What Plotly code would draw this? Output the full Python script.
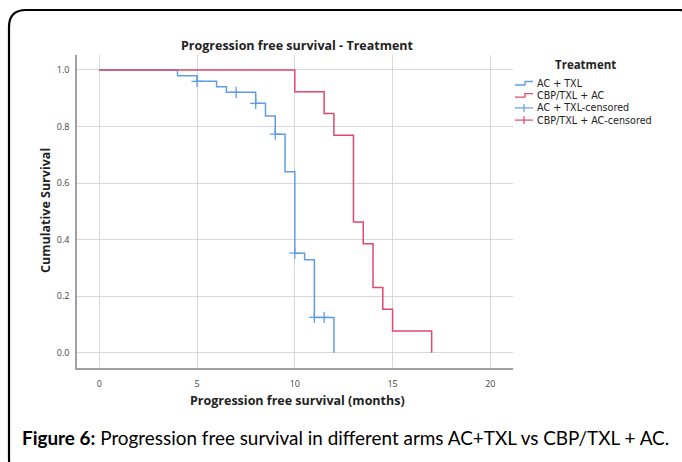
import plotly.graph_objects as go

# Kaplan-Meier estimates: progression free survival by treatment arm
ac_txl_months = [0, 4, 5, 6, 6.5, 8, 8.5, 9, 9.5, 10, 10.5, 11, 12]
ac_txl_surv = [1.0, 0.980, 0.960, 0.941, 0.921, 0.882, 0.837, 0.773, 0.640, 0.352, 0.329, 0.125, 0.0]
ac_txl_cens_months = [5, 7, 8, 9, 10, 11, 11.5]
ac_txl_cens_surv = [0.960, 0.921, 0.882, 0.773, 0.352, 0.125, 0.125]

cbp_months = [0, 10, 11.5, 12, 13, 13.5, 14, 14.5, 15, 17]
cbp_surv = [1.0, 0.923, 0.846, 0.769, 0.462, 0.385, 0.231, 0.154, 0.077, 0.0]

series_names = ["AC + TXL", "CBP/TXL + AC", "AC + TXL-censored", "CBP/TXL + AC-censored"]
x_ticks = [0, 5, 10, 15, 20]
y_ticks = [0.0, 0.2, 0.4, 0.6, 0.8, 1.0]

BLUE = "#5f9de8"
RED = "#e2476c"
W, H = 682, 462
L, R, T, B = 77, 169, 55, 94
PW, PH = W - L - R, H - T - B
FONT = "Open Sans"
LEGEND_FONT = "DejaVu Sans"


def px(x):
    return (x - L) / PW


def py(y):
    return (H - B - y) / PH


def label(text, x, y, size, family=FONT, color="#222", xanchor="center", angle=0):
    return dict(text=text, x=px(x), y=py(y), xref="paper", yref="paper",
                xanchor=xanchor, yanchor="middle", showarrow=False, textangle=angle,
                font=dict(family=family, size=size, color=color))


fig = go.Figure()
fig.add_trace(go.Scatter(x=ac_txl_months, y=ac_txl_surv, mode="lines",
                         line=dict(color=BLUE, width=1.5, shape="hv"),
                         name=series_names[0], showlegend=False))
fig.add_trace(go.Scatter(x=cbp_months, y=cbp_surv, mode="lines",
                         line=dict(color=RED, width=1.5, shape="hv"),
                         name=series_names[1], showlegend=False))
fig.add_trace(go.Scatter(x=ac_txl_cens_months, y=ac_txl_cens_surv, mode="markers",
                         marker=dict(symbol="cross-thin", size=8, color=BLUE,
                                     line=dict(color=BLUE, width=1.3)),
                         name=series_names[2], showlegend=False))

axis_common = dict(showgrid=True, gridcolor="#d9d9d9", gridwidth=1, zeroline=False,
                   showline=True, linecolor="#a0a0a0", linewidth=1.5, ticks="",
                   tickfont=dict(family=FONT, size=9, color="#444"))
fig.update_xaxes(range=[-1.14, 21.16], tickvals=x_ticks, ticklabelstandoff=6, **axis_common)
fig.update_yaxes(range=[-0.054, 1.053], tickvals=y_ticks, tickformat=".1f",
                 ticklabelstandoff=4, **axis_common)

shapes = []
annotations = []

# Rounded frame around the whole panel
x0, y0, x1, y1, r = 9, 10, 696, 476, 17
frame = (f"M {px(x0 + r)} {py(y0)} L {px(x1 - r)} {py(y0)} "
         f"Q {px(x1)} {py(y0)} {px(x1)} {py(y0 + r)} L {px(x1)} {py(y1 - r)} "
         f"Q {px(x1)} {py(y1)} {px(x1 - r)} {py(y1)} L {px(x0 + r)} {py(y1)} "
         f"Q {px(x0)} {py(y1)} {px(x0)} {py(y1 - r)} L {px(x0)} {py(y0 + r)} "
         f"Q {px(x0)} {py(y0)} {px(x0 + r)} {py(y0)} Z")
shapes.append(dict(type="path", xref="paper", yref="paper", path=frame,
                   line=dict(color="black", width=2.2), layer="below"))

# Titles
annotations.append(label("<b>Progression free survival - Treatment</b>", 297, 45, 12.5))
annotations.append(label("<b>Progression free survival (months)</b>", 297, 400, 12.5))
annotations.append(label("<b>Cumulative Survival</b>", 45, 211, 12.5, angle=-90))

# Legend
annotations.append(label("<b>Treatment</b>", 585, 65, 11.5))
rows = [83.5, 95.7, 107.9, 120.1]
colors = [BLUE, RED, BLUE, RED]
for i, (name, yy, col) in enumerate(zip(series_names, rows, colors)):
    if i < 2:
        step = (f"M {px(515)} {py(yy + 1.5)} L {px(525)} {py(yy + 1.5)} "
                f"L {px(525)} {py(yy - 2)} L {px(533)} {py(yy - 2)}")
        shapes.append(dict(type="path", xref="paper", yref="paper", path=step,
                           line=dict(color=col, width=1.3)))
    else:
        shapes.append(dict(type="line", xref="paper", yref="paper",
                           x0=px(515), x1=px(533), y0=py(yy), y1=py(yy),
                           line=dict(color=col, width=1.2)))
        shapes.append(dict(type="line", xref="paper", yref="paper",
                           x0=px(524), x1=px(524), y0=py(yy - 4), y1=py(yy + 4),
                           line=dict(color=col, width=1.2)))
    annotations.append(label(name, 535, yy, 9.6, family=LEGEND_FONT, xanchor="left"))

# Caption
annotations.append(label("<b>Figure 6:</b> Progression free survival in different arms AC+TXL vs CBP/TXL + AC.",
                         20, 437, 18.9, family="Lato", color="black", xanchor="left"))

fig.update_layout(width=W, height=H, margin=dict(l=L, r=R, t=T, b=B),
                  paper_bgcolor="white", plot_bgcolor="white",
                  shapes=shapes, annotations=annotations, showlegend=False)

fig.write_html("out.html")
